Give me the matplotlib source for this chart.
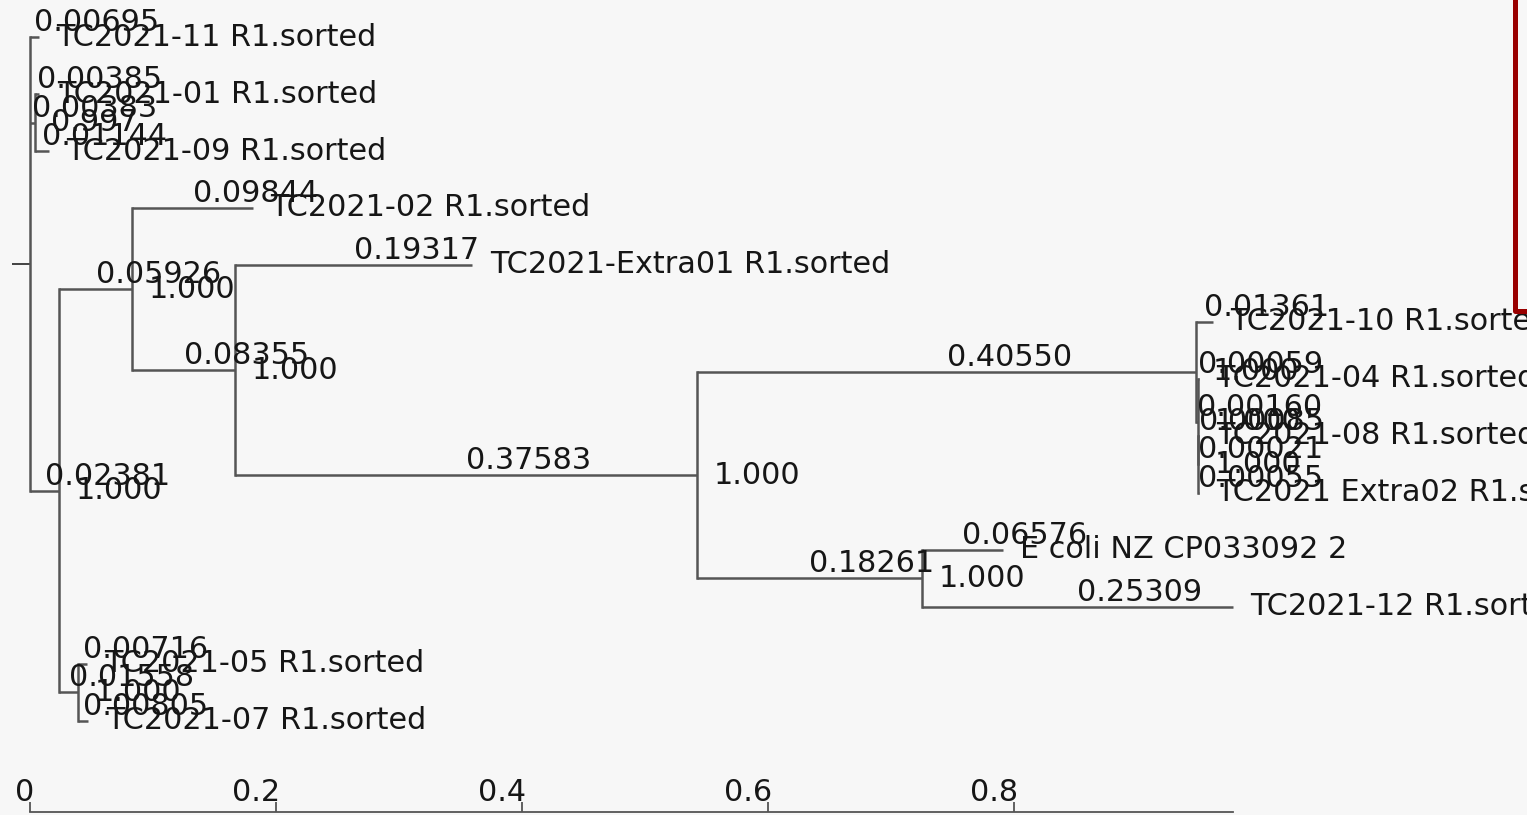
import matplotlib
matplotlib.use("Agg")
import matplotlib.pyplot as plt
import matplotlib.transforms as mtrans
from matplotlib.lines import Line2D

# tree as flat lists: parent index, branch length and support of every node
names = ["", "TC2021-11 R1.sorted", "", "TC2021-01 R1.sorted", "TC2021-09 R1.sorted",
         "", "", "TC2021-02 R1.sorted", "", "TC2021-Extra01 R1.sorted",
         "", "", "TC2021-10 R1.sorted", "", "TC2021-04 R1.sorted",
         "", "TC2021-08 R1.sorted", "TC2021 Extra02 R1.sorted",
         "", "E coli NZ CP033092 2", "TC2021-12 R1.sorted",
         "", "TC2021-05 R1.sorted", "TC2021-07 R1.sorted"]
parents = [-1, 0, 0, 2, 2, 0, 5, 6, 6, 8, 8, 10, 11, 11, 13, 13, 15, 15, 10, 18, 18, 5, 21, 21]
branch_len = [0.0, 0.00695, 0.00383, 0.00385, 0.01144, 0.02381, 0.05926, 0.09844,
              0.08355, 0.19317, 0.37583, 0.40550, 0.01361, 0.00160, 0.00059, 0.00021,
              0.00085, 0.00055, 0.18261, 0.06576, 0.25309, 0.01558, 0.00716, 0.00805]
support = [None, None, 0.997, None, None, 1.0, 1.0, None, 1.0, None, 1.0, 1.0, None,
           1.0, None, 1.0, None, None, 1.0, None, None, 1.0, None, None]

x_ticks = [0, 0.2, 0.4, 0.6, 0.8]
x_ticklabels = ["0", "0.2", "0.4", "0.6", "0.8"]

n = len(names)
children = {i: [] for i in range(n)}
for i, p in enumerate(parents):
    if p >= 0:
        children[p].append(i)

# x = distance from root
x_pos = [0.0] * n
for i in range(n):
    if parents[i] >= 0:
        x_pos[i] = x_pos[parents[i]] + branch_len[i]

# y: leaves 1..N top to bottom, inner nodes halfway between first and last child
y_pos = {}
leaf_no = [0]


def place(i):
    if not children[i]:
        leaf_no[0] += 1
        y_pos[i] = leaf_no[0]
    else:
        for c in children[i]:
            place(c)
        y_pos[i] = (y_pos[children[i][0]] + y_pos[children[i][-1]]) / 2


place(0)

plt.rcParams['font.family'] = ['DejaVu Sans']
fs = 21.8
line_col = '#555555'
txt_col = '#161616'
bg = '#f7f7f7'

fig = plt.figure(figsize=(15.27, 8.15), dpi=100, facecolor=bg)
ax = fig.add_axes([30 / 1527, 3 / 815, 1203 / 1527, 812 / 815])
ax.set_facecolor(bg)

for i in range(n):
    p = parents[i]
    if p >= 0:
        ax.plot([x_pos[p], x_pos[i]], [y_pos[i], y_pos[i]], color=line_col, lw=1.8,
                solid_capstyle='butt', clip_on=False)
        ax.text((x_pos[p] + x_pos[i]) / 2, y_pos[i], f"{branch_len[i]:.5f}",
                ha='left', va='bottom', fontsize=fs, color=txt_col)
    if children[i]:
        ax.plot([x_pos[i], x_pos[i]], [y_pos[children[i][0]], y_pos[children[i][-1]]],
                color=line_col, lw=1.8, clip_on=False)
    if support[i] is not None:
        ax.annotate(f"{support[i]:.3f}", (x_pos[i], y_pos[i]), xytext=(12, 0),
                    textcoords='offset points', va='center', fontsize=fs, color=txt_col)
    if names[i]:
        ax.annotate(names[i], (x_pos[i], y_pos[i]), xytext=(12.5, 0),
                    textcoords='offset points', va='center', fontsize=fs, color=txt_col)

ax.set_xlim(0, max(x_pos))
ax.set_ylim(leaf_no[0] + 1.6, 0.35)

ax.set_xticks(x_ticks)
ax.set_xticklabels(x_ticklabels)
ax.tick_params(axis='x', direction='in', length=7, width=1.3, color=line_col,
               labelcolor=txt_col, labelsize=fs, pad=-24.5)
shift = mtrans.ScaledTranslation(3 / 72, 0, fig.dpi_scale_trans)
for lbl in ax.get_xticklabels():
    lbl.set_ha('right')
    lbl.set_transform(lbl.get_transform() + shift)

ax.set_yticks([y_pos[0]])
ax.set_yticklabels([''])
ax.tick_params(axis='y', length=13, width=1.3, color='#333333')

for side in ['top', 'right', 'left']:
    ax.spines[side].set_visible(False)
ax.spines['bottom'].set_color(line_col)
ax.spines['bottom'].set_linewidth(1.3)

# red marker line at the right edge
fig.add_artist(Line2D([1515 / 1527, 1515 / 1527, 1], [1, 1 - 311 / 815, 1 - 311 / 815],
                      transform=fig.transFigure, color='#990000', lw=3.6))

fig.savefig('out.png', dpi=100, facecolor=bg)
